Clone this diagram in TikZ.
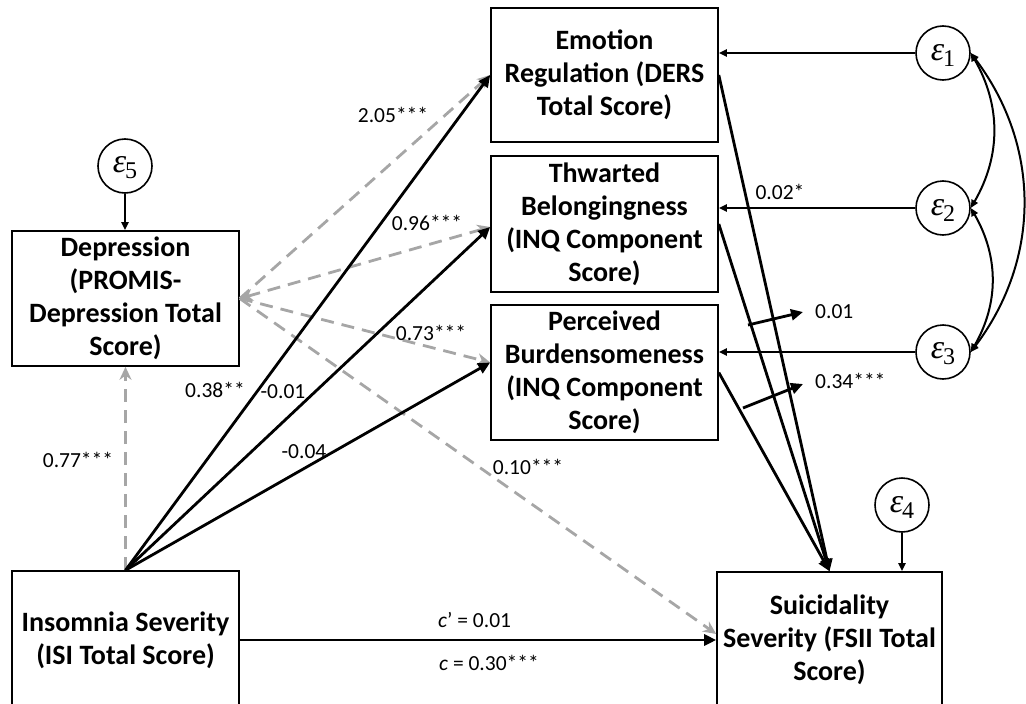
\RequirePackage{fix-cm}
\documentclass[tikz,border=0pt]{standalone}
\usepackage{fontspec}
\setmainfont{Carlito}
\newfontfamily\epsfont{Liberation Serif}
\usetikzlibrary{arrows.meta,calc}
\definecolor{lgray}{RGB}{166,166,166}
\newcommand{\epsvar}[1]{{\epsfont\itshape\fontsize{34}{34}\selectfont ε}\kern-1pt\raisebox{-6pt}{\epsfont\fontsize{24}{24}\selectfont #1}}
\begin{document}
\begin{tikzpicture}[x=1pt,y=-1pt,
 box/.style={draw,line width=1.6pt,minimum width=227pt,inner sep=0pt,align=center,font=\bfseries\fontsize{28}{33}\selectfont},
 err/.style={draw,circle,line width=1.6pt,minimum size=54pt,inner sep=0pt},
 solidarr/.style={line width=2.8pt,-{Triangle[length=12pt,width=11pt]}},
 dasharr/.style={line width=2.8pt,color=lgray,dash pattern=on 13pt off 8pt,-{Stealth[length=13pt,width=12pt]}},
 thinarr/.style={line width=2pt,-{Triangle[length=8pt,width=7pt]}},
 dblarr/.style={line width=2pt,{Triangle[length=8pt,width=7pt]}-{Triangle[length=8pt,width=7pt]}},
 lab/.style={font=\fontsize{21.5}{24}\selectfont,inner sep=0pt}
]
\path[use as bounding box] (0,0) rectangle (1026,704);
\clip (0,0) rectangle (1026,704);

% boxes
\node[box,minimum height=134pt] (emo) at (604.5,75) {Emotion\\Regulation (DERS\\Total Score)};
\node[box,minimum height=136pt] (thw) at (604.5,224) {Thwarted\\Belongingness\\(INQ Component\\Score)};
\node[box,minimum height=135pt] (per) at (604.5,372.5) {Perceived\\Burdensomeness\\(INQ Component\\Score)};
\node[box,minimum height=135pt] (dep) at (125.5,298.5) {Depression\\(PROMIS-\\Depression Total\\Score)};
\node[box,minimum height=138pt] (ins) at (125.5,640) {Insomnia Severity\\(ISI Total Score)};
\node[box,minimum width=225pt,minimum height=136pt] (sui) at (829.5,640) {Suicidality\\Severity (FSII Total\\Score)};

% error terms
\node[err] (e1) at (943,53) {};
\node[err] (e2) at (943,208) {};
\node[err] (e3) at (943,352) {};
\node[err] (e4) at (902,505) {};
\node[err] (e5) at (125,166) {};
\node (t1) at ([yshift=-2pt]e1.center) {\epsvar{1}};
\node (t2) at ([yshift=-2pt]e2.center) {\epsvar{2}};
\node (t3) at ([yshift=-2pt]e3.center) {\epsvar{3}};
\node (t4) at ([yshift=-2pt]e4.center) {\epsvar{4}};
\node (t5) at ([yshift=-2pt]e5.center) {\epsvar{5}};

\draw[thinarr] (e1.west) -- (e1.west -| emo.east);
\draw[thinarr] (e2.west) -- (e2.west -| thw.east);
\draw[thinarr] (e3.west) -- (e3.west -| per.east);
\draw[thinarr] (e4.south) -- (e4.south |- sui.north);
\draw[thinarr] (e5.south) -- (e5.south |- dep.north);

\draw[dblarr] (e1.east) to[bend left=30] (e2.east);
\draw[dblarr] (e2.east) to[bend left=30] (e3.east);
\draw[dblarr] (e1.east) to[bend left=37] (e3.east);

% dashed gray paths
\draw[dasharr] (ins.north) -- (dep.south);
\draw[dasharr] (dep.east) -- (emo.west);
\draw[dasharr,{Stealth[length=13pt,width=12pt]}-{Stealth[length=13pt,width=12pt]}] (dep.east) -- ([yshift=-3pt]thw.west);
\draw[dasharr] (dep.east) -- ([yshift=10pt]per.west);
\draw[dasharr] (dep.east) -- ([yshift=6pt]sui.west);

% solid black paths
\draw[solidarr] (ins.north) -- (emo.west);
\draw[solidarr] (ins.north) -- ([yshift=-3pt]thw.west);
\draw[solidarr] (ins.north) -- ([yshift=10pt]per.west);
\draw[solidarr] (ins.east) -- (sui.west);
\draw[solidarr] (emo.east) -- (sui.north);
\draw[solidarr] (thw.east) -- (sui.north);
\draw[solidarr] (per.east) -- (sui.north);

% indicator arrows
\coordinate (a1s) at (748,325);
\coordinate (a1e) at (803,312);
\coordinate (a2s) at (743,408);
\coordinate (a2e) at (803,384);
\draw[solidarr] (a1s) -- (a1e);
\draw[solidarr] (a2s) -- (a2e);
\node[lab,anchor=west] (l01) at (815,312) {0.01};
\node[lab,anchor=west] (l34) at (815,381) {0.34***};

% labels
\node[lab] (l205) at (393,115) {2.05***};
\node[lab] (l096) at (427,223) {0.96***};
\node[lab] (l073) at (431,333) {0.73***};
\node[lab] (l038) at (215,390) {0.38**};
\node[lab] (lm001) at (283,392) {-0.01};
\node[lab] (lm004) at (304,452) {-0.04};
\node[lab] (l077) at (78,460) {0.77***};
\node[lab] (l010) at (528,467) {0.10***};
\node[lab] (l002) at (780,192) {0.02*};
\node[lab,anchor=west] (lcp) at (438,620) {\textit{c}’ = 0.01};
\node[lab,anchor=west] (lc) at (439,663) {\textit{c} = 0.30***};
\end{tikzpicture}
\end{document}
